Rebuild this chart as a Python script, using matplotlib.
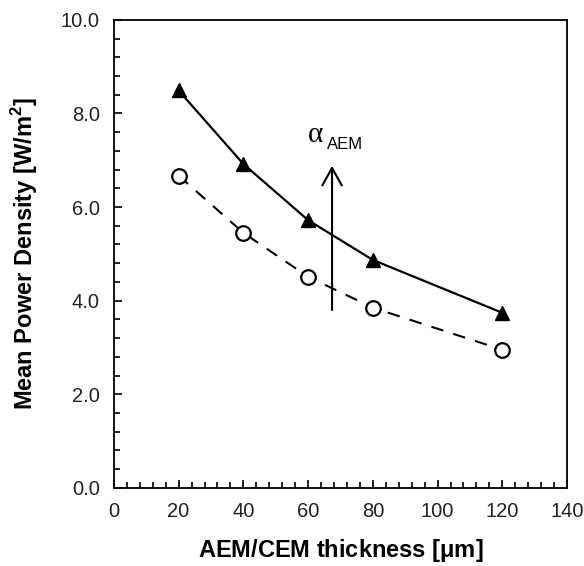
import numpy as np
import matplotlib
matplotlib.use('Agg')
import matplotlib.pyplot as plt
from matplotlib.ticker import MultipleLocator, FormatStrFormatter

plt.rcParams['font.family'] = ['Liberation Sans', 'DejaVu Sans']
plt.rcParams['mathtext.fontset'] = 'custom'
plt.rcParams['mathtext.rm'] = 'Liberation Sans'
plt.rcParams['mathtext.bf'] = 'Liberation Sans:bold'

# data
thickness = [20, 40, 60, 80, 120]
power_high = [8.49, 6.92, 5.72, 4.87, 3.74]
power_low = [6.67, 5.45, 4.51, 3.85, 2.95]

fig = plt.figure(figsize=(5.84, 5.66), dpi=100)
ax = fig.add_axes([0.195, 0.138, 0.776, 0.827])

ax.plot(thickness, power_high, '-', color='black', lw=1.6,
        marker='^', ms=10, mfc='black', mec='black')
ax.plot(thickness, power_low, '--', color='black', lw=1.5, dashes=(6, 5),
        marker='o', ms=10.5, mfc='white', mec='black', mew=1.6)

# arrow + label
ax.annotate('', xy=(67.4, 6.88), xytext=(67.4, 3.8),
            arrowprops=dict(arrowstyle='->, head_length=0.5, head_width=0.28',
                            color='black', lw=1.5, mutation_scale=25,
                            shrinkA=0, shrinkB=0))
ax.text(60.0, 7.39, '\u03b1', fontsize=21, va='baseline',
        family=['Liberation Serif', 'DejaVu Serif'])
ax.text(65.8, 7.24, 'AEM', fontsize=12, va='baseline')

ax.set_xlim(0, 140)
ax.set_ylim(0, 10)
ax.xaxis.set_major_locator(MultipleLocator(20))
ax.xaxis.set_minor_locator(MultipleLocator(4))
ax.yaxis.set_major_locator(MultipleLocator(2))
ax.yaxis.set_minor_locator(MultipleLocator(0.4))
ax.yaxis.set_major_formatter(FormatStrFormatter('%.1f'))

ax.tick_params(which='both', direction='in', top=False, right=False,
               labelsize=14.5, colors='black', width=1.2)
ax.tick_params(which='major', length=6, pad=10)
ax.tick_params(which='minor', length=4)
ax.tick_params(axis='x', labelcolor='#222222')
ax.tick_params(axis='y', labelcolor='#222222')
for s in ax.spines.values():
    s.set_linewidth(1.3)

ax.set_xlabel(r'AEM/CEM thickness [$\mathbf{\mu}$m]', fontsize=17,
              fontweight='bold', labelpad=12)
ax.set_ylabel(r'Mean Power Density [W/m$^\mathbf{2}$]', fontsize=17,
              fontweight='bold', labelpad=15)

fig.savefig('out.png', dpi=100)
